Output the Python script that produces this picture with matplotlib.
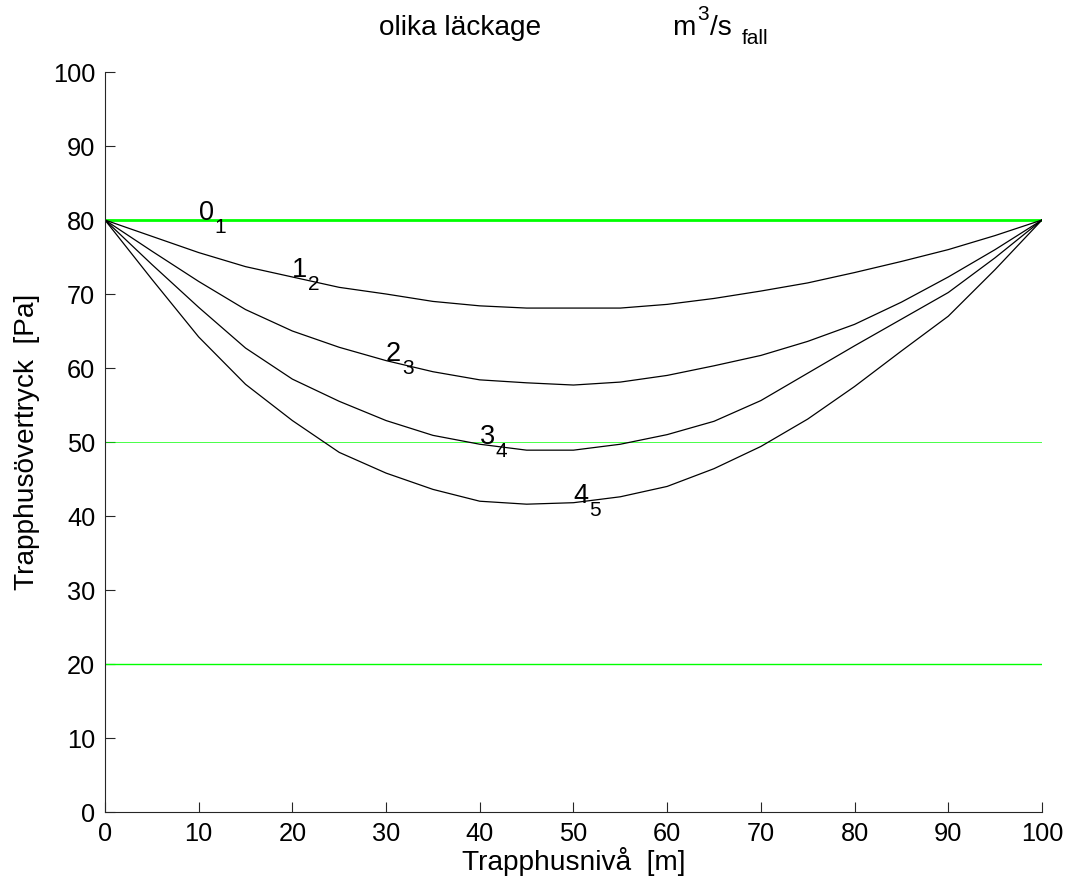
import numpy as np
import matplotlib
matplotlib.use('Agg')
import matplotlib.pyplot as plt

plt.rcParams['font.family'] = ['Liberation Sans', 'DejaVu Sans']

# Trapphusnivå [m]
niva = [0, 5, 10, 15, 20, 25, 30, 35, 40, 45, 50, 55, 60, 65, 70, 75, 80, 85, 90, 95, 100]

# Trapphusövertryck [Pa] för olika läckage-fall
fall_1 = [80, 77.8, 75.6, 73.7, 72.3, 70.9, 70.0, 69.0, 68.4, 68.1, 68.1, 68.1, 68.6, 69.4, 70.4, 71.5, 72.9, 74.4, 76.0, 77.9, 80]
fall_2 = [80, 75.8, 71.7, 67.9, 65.0, 62.8, 61.0, 59.5, 58.4, 58.0, 57.7, 58.1, 59.0, 60.3, 61.7, 63.6, 65.9, 68.9, 72.3, 76.0, 80]
fall_3 = [80, 74.0, 68.2, 62.7, 58.5, 55.5, 52.9, 50.9, 49.7, 48.9, 48.9, 49.7, 51.0, 52.8, 55.6, 59.3, 63.0, 66.6, 70.2, 74.9, 80]
fall_4 = [80, 72.0, 64.2, 57.8, 52.9, 48.6, 45.8, 43.6, 42.0, 41.6, 41.8, 42.6, 44.0, 46.4, 49.4, 53.1, 57.5, 62.3, 67.0, 73.3, 80]

# gränser
grans_max = 80
grans_mid = 50
grans_min = 20

# etiketter vid kurvorna (siffra + index)
etikett_siffra = ['0', '1', '2', '3', '4']
etikett_index = ['1', '2', '3', '4', '5']
etikett_x = [10, 20, 30, 40, 50]
etikett_y = [80.0, 72.3, 61.0, 49.7, 41.8]


fig = plt.figure(figsize=(10.69, 8.90), dpi=100)
ax = fig.add_axes([0.0982, 0.0876, 0.8765, 0.8315])

ax.plot([0, 100], [grans_max, grans_max], color='#00ff00', lw=2.0)
ax.plot([0, 100], [grans_mid, grans_mid], color='#00ff00', lw=0.5)
ax.plot([0, 100], [grans_min, grans_min], color='#00ff00', lw=1.0)

for serie in [fall_1, fall_2, fall_3, fall_4]:
    ax.plot(niva, serie, color='black', lw=0.9)

# MATLAB-liknande index: lägre och mindre än huvudsiffran
for s, idx, tx, ty in zip(etikett_siffra, etikett_index, etikett_x, etikett_y):
    ax.text(tx, ty, s, fontsize=19.5, ha='left', va='baseline')
    ax.annotate(idx, xy=(tx, ty), xytext=(11.5, -9.5), textcoords='offset points',
                fontsize=15, ha='left', va='baseline')

ax.set_xlim(0, 100)
ax.set_ylim(0, 100)
ax.set_xticks(np.arange(0, 101, 10))
ax.set_yticks(np.arange(0, 101, 10))

ax.spines['top'].set_visible(False)
ax.spines['right'].set_visible(False)
for s in ['left', 'bottom']:
    ax.spines[s].set_linewidth(0.8)
    ax.spines[s].set_color('#262626')
ax.tick_params(direction='in', length=7, width=0.8, color='#262626',
               labelsize=18.3, pad=7)

ax.set_xlabel('Trapphusnivå  [m]', fontsize=20.2, labelpad=1)
ax.set_ylabel('Trapphusövertryck  [Pa]', fontsize=20.2, labelpad=9)

# titel: text + enhet med upphöjt/index
fig.text(0.4306, 0.961, 'olika läckage', fontsize=20.2, ha='center', va='baseline')
fig.text(0.6286, 0.961, 'm', fontsize=20.2, ha='left', va='baseline')
fig.text(0.6525, 0.977, '3', fontsize=15, ha='left', va='baseline')
fig.text(0.6645, 0.961, '/s', fontsize=20.2, ha='left', va='baseline')
fig.text(0.6935, 0.950, 'fall', fontsize=15, ha='left', va='baseline')

fig.savefig('out.png', dpi=100)
